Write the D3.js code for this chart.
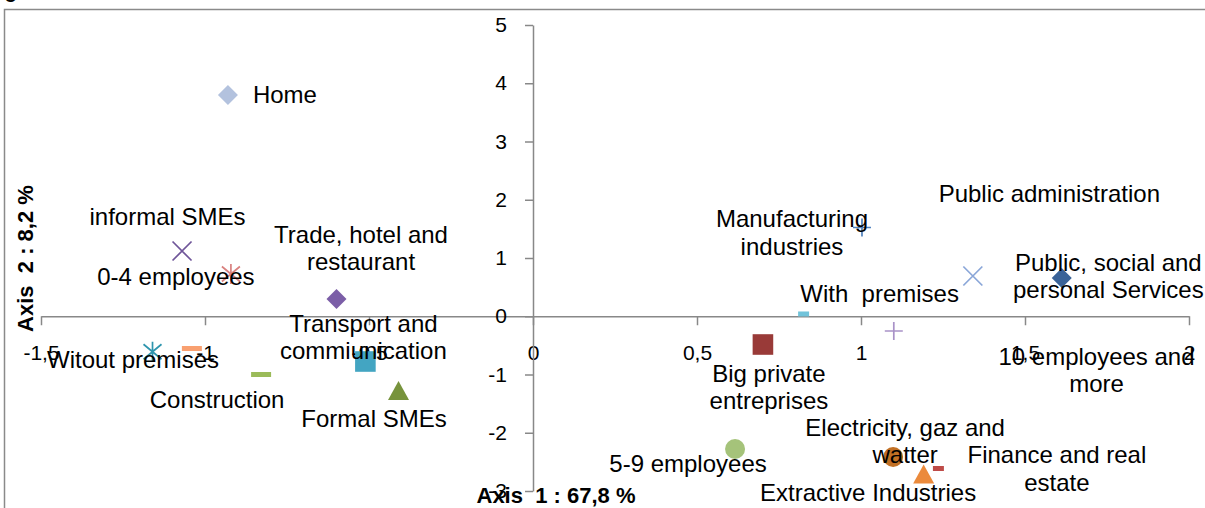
<!DOCTYPE html>
<html><head><meta charset="utf-8">
<script src="https://cdn.jsdelivr.net/npm/d3@7"></script>
<style>
html,body{margin:0;padding:0;background:#fff;overflow:hidden}
svg{display:block}
.lbl{font-family:"Liberation Sans",Arial,sans-serif;font-size:24px;fill:#000;white-space:pre}
.tick text{font-family:"Liberation Sans",Arial,sans-serif;font-size:21px;fill:#000}
.ttl{font-family:"Liberation Sans",Arial,sans-serif;font-size:22px;font-weight:bold;fill:#000;white-space:pre}
</style></head><body>
<svg id="c" width="1205" height="508"></svg>
<script>
// ---- data ----
const categories = [
  "Home",
  "informal SMEs",
  "0-4 employees",
  "Trade, hotel and\nrestaurant",
  "Witout premises",
  "",
  "Construction",
  "Transport and\ncommiunication",
  "Formal SMEs",
  "Manufacturing\nindustries",
  "Public administration",
  "Public, social and\npersonal Services",
  "With  premises",
  "10 employees and\nmore",
  "Big private\nentreprises",
  "5-9 employees",
  "Electricity, gaz and\nwatter",
  "Extractive Industries",
  "Finance and real\nestate"
];
const xValues = [-0.930, -1.070, -0.921, -0.599, -1.160, -1.040, -0.829, -0.511, -0.410,
                 1.003, 1.341, 1.612, 0.825, 1.100, 0.701, 0.616, 1.098, 1.191, 1.236];
const yValues = [3.80, 1.12, 0.725, 0.296, -0.609, -0.554, -1.00, -0.777, -1.283,
                 1.524, 0.691, 0.657, 0.039, -0.253, -0.485, -2.279, -2.416, -2.717, -2.614];
const xTicks = [-1.5, -1, -0.5, 0, 0.5, 1, 1.5, 2];
const yTicks = [-3, -2, -1, 0, 1, 2, 3, 4, 5];
const xTitle = "Axis  1 : 67,8 %";
const yTitle = "Axis  2 : 8,2 %";

// ---- styles / layout ----
const markerShapes = ["diamond","x","star","diamond","star","dash","dash","square","triangle",
                      "plus","x","diamond","dashS","plus","square","circle","circle","triangle","dashS"];
const markerColors = ["#B3C2DE","#6F5599","#D9817F","#7B5EA7","#2E95AE","#F9A070","#9BBB59","#43A5C2","#77933C",
                      "#4F81BD","#8AA6D8","#3A6398","#71C3DA","#A992C8","#993A38","#A5C37A","#C27024","#EB8A3C","#BE4B48"];
const labelOffsets = [[57,8.3],[-14.5,-26],[-55,11],[24.5,-56],[-19.5,16.3],[0,0],[-44,33.5],[-2,-30],[-24.5,36.5],
                      [-70,0],[76.5,-74.3],[46.6,-7.3],[76,-12.3],[202.7,34],[6,37.2],[-47,22.7],[12,-21],[-55.5,26.2],[118.5,-5.2]];
const lineH = 27.4;

const svg = d3.select("#c");
svg.append("rect").attr("width",1205).attr("height",508).attr("fill","#fff");

// partial caption at top-left and chart border
svg.append("text").attr("x",17).attr("y",-2).attr("text-anchor","end")
  .attr("font-family","Liberation Sans, Arial, sans-serif").attr("font-size",20).attr("font-weight","bold").text("Fig");
svg.append("rect").attr("x",4.5).attr("y",9.5).attr("width",1230).attr("height",530)
  .attr("fill","none").attr("stroke","#8a8a8a").attr("stroke-width",1.5);

const x = d3.scaleLinear().domain([-1.5, 2]).range([41, 1189]);
const y = d3.scaleLinear().domain([-3, 5]).range([491, 25]);
const fmt = d => String(d).replace(".", ",");

const gx = svg.append("g").attr("transform", `translate(0,${y(0)})`)
  .call(d3.axisBottom(x).tickValues(xTicks).tickFormat(fmt).tickSize(9).tickSizeOuter(0).tickPadding(20));
const gy = svg.append("g").attr("transform", `translate(${x(0)},0)`)
  .call(d3.axisLeft(y).tickValues(yTicks).tickFormat(fmt).tickSize(8).tickSizeOuter(0).tickPadding(18));
[gx, gy].forEach(g => {
  g.select(".domain").attr("stroke","#888").attr("stroke-width",1.5);
  g.selectAll(".tick line").attr("stroke","#888").attr("stroke-width",1.5);
  g.attr("font-family", null).attr("font-size", null);
});

// markers
function shapePath(s) {
  const p = d3.path();
  switch (s) {
    case "diamond": p.moveTo(0,-10); p.lineTo(10,0); p.lineTo(0,10); p.lineTo(-10,0); p.closePath(); break;
    case "square": p.rect(-10.3,-10.3,20.6,20.6); break;
    case "triangle": p.moveTo(0,-10); p.lineTo(10.5,9); p.lineTo(-10.5,9); p.closePath(); break;
    case "circle": p.arc(0,0,10,0,2*Math.PI); break;
    case "dash": p.rect(-10,-2.5,20,5); break;
    case "dashS": p.rect(-5.5,-2.5,11,5); break;
    case "x": p.moveTo(-9.5,-9.5); p.lineTo(9.5,9.5); p.moveTo(9.5,-9.5); p.lineTo(-9.5,9.5); break;
    case "plus": p.moveTo(-9,0); p.lineTo(9,0); p.moveTo(0,-9); p.lineTo(0,9); break;
    case "star": p.moveTo(-9,-7.5); p.lineTo(9,7.5); p.moveTo(9,-7.5); p.lineTo(-9,7.5); p.moveTo(0,-10); p.lineTo(0,10); break;
  }
  return p.toString();
}
const stroked = new Set(["x","plus","star"]);
const idx = d3.range(categories.length);
svg.append("g").selectAll("path").data(idx).join("path")
  .attr("transform", i => `translate(${x(xValues[i])},${y(yValues[i])})`)
  .attr("d", i => shapePath(markerShapes[i]))
  .attr("fill", i => stroked.has(markerShapes[i]) ? "none" : markerColors[i])
  .attr("stroke", i => stroked.has(markerShapes[i]) ? markerColors[i] : "none")
  .attr("stroke-width", 1.7);

// data labels
const lg = svg.append("g");
idx.forEach(i => {
  if (!categories[i]) return;
  const cx = x(xValues[i]) + labelOffsets[i][0];
  const cy = y(yValues[i]) + labelOffsets[i][1];
  const t = lg.append("text").attr("class","lbl").attr("text-anchor","middle");
  categories[i].split("\n").forEach((ln, k) => {
    t.append("tspan").attr("x", cx).attr("y", cy + k * lineH).text(ln);
  });
});

// axis titles
svg.append("text").attr("class","ttl").attr("text-anchor","middle")
  .attr("x", 556).attr("y", 503).text(xTitle);
svg.append("text").attr("class","ttl").attr("text-anchor","middle")
  .attr("transform","translate(33,258.5) rotate(-90)").text(yTitle);
</script>
</body></html>
